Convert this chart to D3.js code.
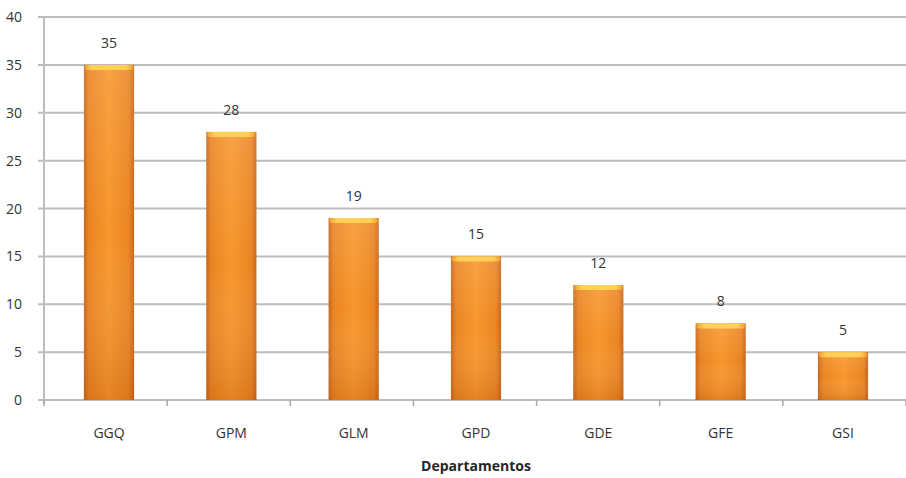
<!DOCTYPE html>
<html><head><meta charset="utf-8">
<script src="https://cdn.jsdelivr.net/npm/d3@7"></script>
<style>body{margin:0;background:#fff}svg{display:block}</style>
</head><body><svg id="c" width="906" height="478"></svg>
<script>
const categories = ["GGQ","GPM","GLM","GPD","GDE","GFE","GSI"];
const values = [35,28,19,15,12,8,5];
const yTicks = [0,5,10,15,20,25,30,35,40];
const xTitle = "Departamentos";

const svg = d3.select("#c");
const mLeft = 44, mRight = 906, mTop = 17, mBottom = 400;
const x = d3.scaleBand().domain(categories).range([mLeft+2, mRight]).paddingInner(0.59).paddingOuter(0.31);
const y = d3.scaleLinear().domain([0,40]).range([mBottom, mTop]);

const defs = svg.append("defs");
const gh = defs.append("linearGradient").attr("id","gh").attr("x1","0").attr("x2","1").attr("y1","0").attr("y2","0");
[[0,"#c8661a"],[0.1,"#ea8422"],[0.5,"#f8962c"],[0.9,"#ea8422"],[1,"#c8661a"]].forEach(s=>gh.append("stop").attr("offset",s[0]).attr("stop-color",s[1]));
const gv = defs.append("linearGradient").attr("id","gv").attr("x1","0").attr("x2","0").attr("y1","0").attr("y2","1");
[[0,"#ffffff",0.12],[0.5,"#ffffff",0],[1,"#a04000",0.22]].forEach(s=>gv.append("stop").attr("offset",s[0]).attr("stop-color",s[1]).attr("stop-opacity",s[2]));
const gc = defs.append("linearGradient").attr("id","gc").attr("x1","0").attr("x2","1").attr("y1","0").attr("y2","0");
[[0,"#f0a030"],[0.15,"#ffd055"],[0.85,"#ffd055"],[1,"#f0a030"]].forEach(s=>gc.append("stop").attr("offset",s[0]).attr("stop-color",s[1]));

// gridlines
svg.append("g").selectAll("line").data(yTicks).join("line")
  .attr("x1", mLeft-6).attr("x2", mRight).attr("y1", d=>y(d)).attr("y2", d=>y(d))
  .attr("stroke","#bdbdbd").attr("stroke-width",2);
// y axis line
svg.append("line").attr("x1",mLeft).attr("x2",mLeft).attr("y1",mTop).attr("y2",mBottom+4)
  .attr("stroke","#bdbdbd").attr("stroke-width",2);
// category tick marks
const bounds = d3.range(categories.length+1).map(i=>mLeft + i*(mRight-mLeft)/categories.length);
svg.append("g").selectAll("line").data(bounds).join("line")
  .attr("x1",d=>d).attr("x2",d=>d).attr("y1",mBottom).attr("y2",mBottom+6)
  .attr("stroke","#a8a8a8").attr("stroke-width",1.5);

const font = "Open Sans, sans-serif";
// y labels
svg.append("g").selectAll("text").data(yTicks).join("text")
  .attr("x",22).attr("y",d=>y(d)+5).attr("text-anchor","end")
  .attr("font-family",font).attr("font-size",14).attr("fill","#333").text(d=>d);

// bars
const bars = svg.append("g").selectAll("g").data(categories.map((c,i)=>({c,v:values[i]}))).join("g");
bars.append("rect").attr("x",d=>x(d.c)).attr("y",d=>y(d.v)).attr("width",x.bandwidth()).attr("height",d=>mBottom-y(d.v)).attr("fill","url(#gh)");
bars.append("rect").attr("x",d=>x(d.c)).attr("y",d=>y(d.v)).attr("width",x.bandwidth()).attr("height",d=>mBottom-y(d.v)).attr("fill","url(#gv)");
bars.append("rect").attr("x",d=>x(d.c)+1).attr("y",d=>y(d.v)).attr("width",x.bandwidth()-2).attr("height",5).attr("rx",2).attr("fill","url(#gc)");

// value labels
bars.append("text").attr("x",d=>x(d.c)+x.bandwidth()/2).attr("y",d=>y(d.v)-17).attr("text-anchor","middle")
  .attr("font-family",font).attr("font-size",14).attr("fill","#333").text(d=>d.v);

// x labels
svg.append("g").selectAll("text").data(categories).join("text")
  .attr("x",d=>x(d)+x.bandwidth()/2).attr("y",438).attr("text-anchor","middle")
  .attr("font-family",font).attr("font-size",14).attr("fill","#333").text(d=>d);

svg.append("text").attr("x",476).attr("y",471).attr("text-anchor","middle")
  .attr("font-family",font).attr("font-size",14).attr("font-weight","bold").attr("fill","#262626").text(xTitle);
</script></body></html>
